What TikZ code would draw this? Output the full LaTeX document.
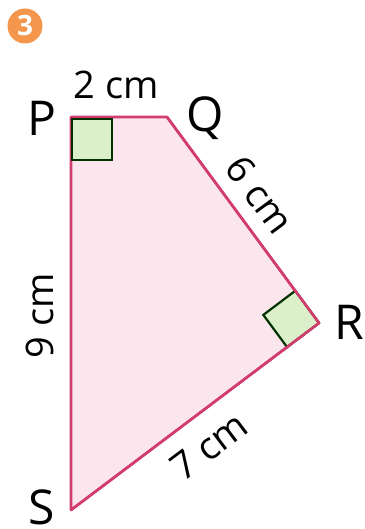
\documentclass[tikz,border=0pt]{standalone}
\usepackage{fontspec}
\setmainfont{Open Sans}
\usepackage{xcolor}
\usepackage{tikz}
\usetikzlibrary{calc, positioning}

\definecolor{edgered}{HTML}{D23C6E}
\definecolor{shapepink}{HTML}{FCE6EE}
\definecolor{anglegreen}{HTML}{DCEFCB}
\definecolor{badgeorange}{HTML}{F4964C}

\begin{document}
\begin{tikzpicture}[
    x=0.5pt, y=-0.5pt,
    side/.style={draw=edgered, line width=1.3pt, fill=shapepink, line join=round},
    rightangle/.style={draw=black!80!green, line width=1.1pt, fill=anglegreen},
    vertex/.style={font=\fontsize{24}{28}\selectfont, inner sep=0pt},
    measure/.style={font=\fontsize{19}{22}\selectfont, inner sep=0pt},
    badge/.style={circle, fill=badgeorange, minimum size=17.5pt, inner sep=0pt, text=white, font=\bfseries\fontsize{14}{16}\selectfont}
]
\useasboundingbox (0,0) rectangle (364,529);

% corners of the shape
\coordinate (P) at (71,117);
\coordinate (Q) at (167,117);
\coordinate (R) at (319,323);
\coordinate (S) at (71,510);

\draw[side] (P) -- (Q) -- (R) -- (S) -- cycle;

% right angles
\draw[rightangle] (P) ++(1,2) rectangle ++(40,41);
\coordinate (RQ) at ($(R)!20pt!(Q)$);
\coordinate (RS) at ($(R)!20pt!(S)$);
\coordinate (Rin) at ($(RQ)+(RS)-(R)$);
\draw[rightangle] (R) -- (RQ) -- (Rin) -- (RS) -- cycle;
\draw[edgered, line width=1.3pt, line join=round] (Q) -- (R) -- (S);

% badge
\node[badge] (num) at (25,26) {3};

% vertex names
\node[vertex] (lblP) at (42,118) {P};
\node[vertex] (lblQ) at (205,118) {Q};
\node[vertex] (lblR) at (349,322) {R};
\node[vertex] (lblS) at (42,507) {S};

% lengths
\node[measure] (pq) at (116,85) {2 cm};
\node[measure, rotate=-53.6] (qr) at (260,195) {6 cm};
\node[measure, rotate=90] (ps) at (40,316) {9 cm};
\node[measure, rotate=37] (sr) at (209,446) {7 cm};
\end{tikzpicture}
\end{document}
